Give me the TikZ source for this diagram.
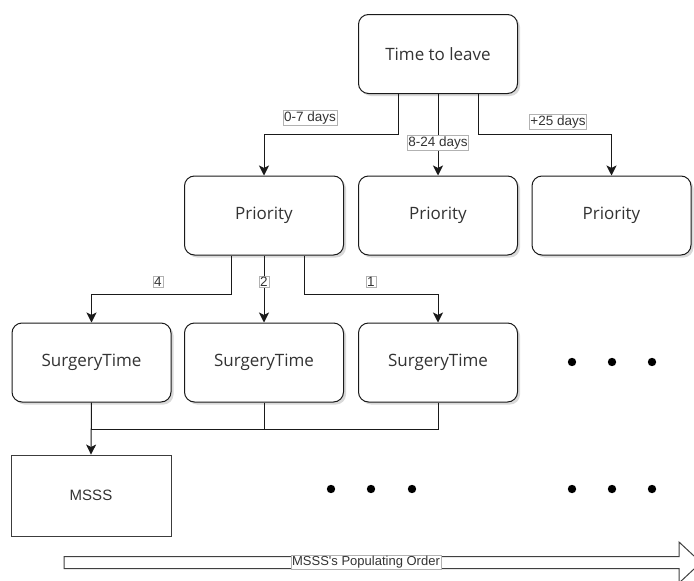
\documentclass[tikz,border=0pt]{standalone}
\usepackage{fontspec}
\newfontfamily\boxfont{Open Sans}
\newfontfamily\labfont{Liberation Sans}
\usetikzlibrary{arrows.meta,shadows}
\definecolor{txt}{HTML}{333333}
\definecolor{ln}{HTML}{1A1A1A}
\tikzset{
  x=1pt, y=-1pt,
  card/.style={draw=ln, line width=1pt, rounded corners=10pt, fill=white,
    minimum width=159pt, minimum height=79pt, inner sep=0pt,
    font=\boxfont\fontsize{17}{19}\selectfont, text=txt,
    drop shadow={shadow xshift=2.5pt, shadow yshift=-2.5pt, opacity=0.25, fill=black!60}},
  plainbox/.style={draw=ln!85, line width=0.9pt, fill=white,
    minimum width=160pt, minimum height=81pt, inner sep=0pt,
    font=\labfont\fontsize{15}{17}\selectfont, text=txt},
  tag/.style={draw=black!30, line width=0.5pt, fill=white, inner sep=1pt,
    font=\labfont\fontsize{13.5}{15}\selectfont, text=txt},
  wire/.style={draw=ln, line width=1pt},
  arr/.style={wire, -{Stealth[length=10pt, width=10pt, inset=2.5pt]}},
  dotmark/.style={fill=black},
}
\begin{document}
\begin{tikzpicture}
\useasboundingbox (0,0) rectangle (694,581);
\clip (0,0) rectangle (694,581);

% boxes
\node[card] (ttl) at (438,54) {Time to leave};
\node[card] (p1) at (264,215.5) {Priority};
\node[card] (p2) at (438,215.5) {Priority};
\node[card] (p3) at (611.5,215.5) {Priority};
\node[card] (s1) at (91.5,362.5) {SurgeryTime};
\node[card] (s2) at (264,362.5) {SurgeryTime};
\node[card] (s3) at (438,362.5) {SurgeryTime};
\node[plainbox] (ms) at (91,495.5) {MSSS};

% time to leave -> priority
\draw[arr] ([xshift=-40pt]ttl.south) -- ++(0,40) -| (p1.north);
\draw[arr] (ttl.south) -- (p2.north);
\draw[arr] ([xshift=40pt]ttl.south) -- ++(0,40) -| (p3.north);
\node[tag] (l07) at (310,118) {0-7 days};
\node[tag] (l824) at (438,143) {8-24 days};
\node[tag] (l25) at (558,122) {+25 days};

% priority -> surgery time
\draw[arr] ([xshift=-33pt]p1.south) -- ++(0,39) -| (s1.north);
\draw[arr] (p1.south) -- (s2.north);
\draw[arr] ([xshift=40pt]p1.south) -- ++(0,39) -| (s3.north);
\node[tag] (l4) at (158,282) {4};
\node[tag] (l2) at (264,282) {2};
\node[tag] (l1) at (371,282) {1};

% surgery times merge into MSSS
\draw[wire] (s3.south) -- ++(0,27) -| (s1.south);
\draw[wire] (s2.south) -- ++(0,27);
\draw[arr] (s1.south) -- (ms.north);

% ellipses
\foreach \px in {572,612,652} \fill[dotmark] (\px,362) circle (4.2);
\foreach \px in {331,371,412,572,612,652} \fill[dotmark] (\px,489) circle (4.2);

% populating order arrow
\draw[draw=black!75, line width=1pt, fill=white, line join=miter]
  (64,556.5) -- (679,556.5) -- (679,542) -- (701,562.5) -- (679,583) -- (679,568.5) -- (64,568.5) -- cycle;
\node[tag, font=\labfont\fontsize{13}{14}\selectfont] (ord) at (366,562.5) {MSSS's Populating Order};
\end{tikzpicture}
\end{document}
